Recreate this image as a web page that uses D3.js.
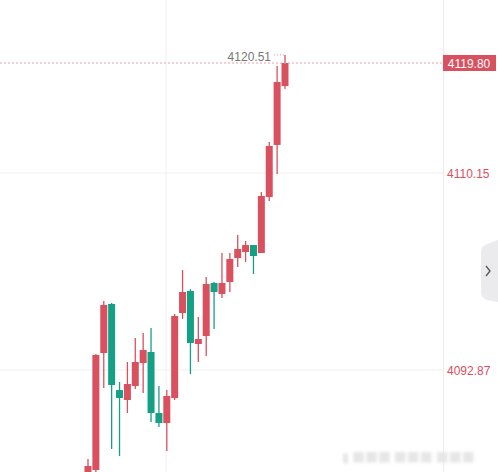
<!DOCTYPE html>
<html><head><meta charset="utf-8">
<script src="https://cdn.jsdelivr.net/npm/d3@7"></script>
<style>body{margin:0;background:#fff;overflow:hidden}</style>
</head><body><div id="chart"></div>
<script>
// candle data, oldest first
const opens  = [4083.92,4084.10,4094.36,4098.66,4091.11,4090.24,4091.47,4093.48,4094.45,4089.10,4088.22,4090.41,4097.87,4099.80,4095.15,4095.85,4100.50,4099.54,4100.59,4102.69,4103.22,4103.83,4103.13,4108.04,4112.61,4117.78];
const closes = [4084.45,4094.19,4098.57,4091.55,4090.41,4091.64,4093.57,4094.62,4089.10,4088.22,4090.59,4097.61,4099.71,4095.24,4095.59,4100.41,4099.71,4100.50,4102.61,4103.48,4103.83,4102.87,4108.13,4112.52,4118.13,4119.80];
const highs  = [4085.06,4094.27,4098.92,4098.75,4091.82,4093.57,4095.68,4096.11,4096.55,4091.47,4091.11,4097.78,4101.64,4099.97,4097.52,4101.03,4100.59,4103.13,4103.13,4104.71,4104.19,4103.83,4108.48,4112.87,4119.54,4120.51];
const lows   = [4083.83,4083.92,4091.29,4085.94,4085.33,4089.10,4091.20,4090.85,4088.31,4087.87,4085.76,4090.24,4097.34,4092.52,4093.57,4094.10,4096.47,4099.19,4099.71,4101.90,4102.34,4101.29,4103.13,4107.69,4110.06,4117.52];
const tickValues = [4110.15, 4092.87];
const lastPrice = 4119.80;
const maxLabel = 4120.51;

const WIDTH = 498, HEIGHT = 472;
const UP = "#d9505f", DOWN = "#14a085";

const svg = d3.select("#chart").append("svg").attr("width", WIDTH).attr("height", HEIGHT);

const x = d3.scaleLinear().domain([0, opens.length - 1]).range([88, 285]);
const y = d3.scaleLinear().domain([4092.87, 4110.15]).range([370, 173]);

// grid
svg.selectAll("line.h").data(tickValues).enter().append("line")
  .attr("x1", 0).attr("x2", 443).attr("y1", d => y(d)).attr("y2", d => y(d))
  .attr("stroke", "#f0f0f0");
svg.append("line").attr("x1", 166).attr("x2", 166).attr("y1", 0).attr("y2", HEIGHT).attr("stroke", "#f0f0f0");
svg.append("line").attr("x1", 443.5).attr("x2", 443.5).attr("y1", 0).attr("y2", HEIGHT).attr("stroke", "#ececec");

// candles (red = up, green = down)
const candles = svg.selectAll("g.c").data(opens.map((o, i) => ({o, c: closes[i], h: highs[i], l: lows[i], i})))
  .enter().append("g");
candles.append("line")
  .attr("x1", d => x(d.i)).attr("x2", d => x(d.i))
  .attr("y1", d => y(d.h)).attr("y2", d => y(d.l))
  .attr("stroke", d => d.c >= d.o ? UP : DOWN).attr("stroke-width", 1.3);
candles.append("rect")
  .attr("x", d => x(d.i) - 3.5).attr("width", 7)
  .attr("y", d => y(Math.max(d.o, d.c)))
  .attr("height", d => Math.max(1, Math.abs(y(d.o) - y(d.c))))
  .attr("fill", d => d.c >= d.o ? UP : DOWN);

// last price line
svg.append("line").attr("x1", 0).attr("x2", 443).attr("y1", y(lastPrice)).attr("y2", y(lastPrice))
  .attr("stroke", "#e8a0a8").attr("stroke-dasharray", "2,2");
svg.append("rect").attr("x", 443).attr("y", y(lastPrice) - 8).attr("width", 53).attr("height", 16).attr("fill", UP);
svg.append("text").attr("x", 469).attr("y", y(lastPrice) + 5).attr("text-anchor", "middle")
  .attr("fill", "#fff").attr("font-family", "Liberation Sans, Arial").attr("font-size", 12).text(lastPrice.toFixed(2));

// max label
svg.append("text").attr("x", 271).attr("y", y(maxLabel) + 6).attr("text-anchor", "end")
  .attr("fill", "#777").attr("font-family", "Liberation Sans, Arial").attr("font-size", 12).text(maxLabel.toFixed(2));
svg.append("line").attr("x1", 274).attr("x2", 284).attr("y1", y(maxLabel)).attr("y2", y(maxLabel))
  .attr("stroke", "#aaa").attr("stroke-dasharray", "1,2");

// axis labels
svg.selectAll("text.t").data(tickValues).enter().append("text")
  .attr("x", 447).attr("y", d => y(d) + 5)
  .attr("fill", "#d9505f").attr("font-family", "Liberation Sans, Arial").attr("font-size", 12)
  .text(d => d.toFixed(2));

// side button
svg.append("path").attr("d", "M498,240 L487,244 Q481,246 481,252 L481,292 Q481,298 487,300 L498,302 Z").attr("fill", "#ebebed");
svg.append("path").attr("d", "M486,266 L490,271 L486,276").attr("fill", "none").attr("stroke", "#555").attr("stroke-width", 1.3);

// faint watermark
svg.append("text").attr("x", 342).attr("y", 462).attr("fill", "#e6e6e6")
  .attr("font-family", "Noto Sans CJK SC").attr("font-size", 13).attr("filter", "blur(1.5px)").text("▮ ■■■ ■■■ ■■■");
</script></body></html>
